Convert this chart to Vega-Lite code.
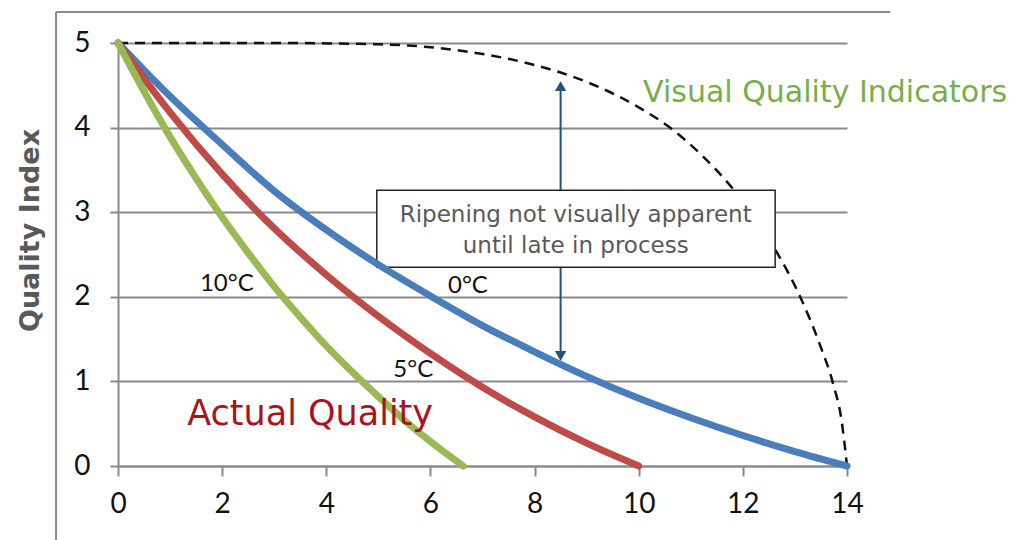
{
  "$schema": "https://vega.github.io/schema/vega-lite/v6.json",
  "width": 729,
  "height": 423,
  "autosize": {"type": "none"},
  "padding": {"left": 118, "top": 43, "right": 164, "bottom": 74},
  "background": "white",
  "config": {"view": {"stroke": null}},
  "datasets": {
    "curves": [
      {"x": 0, "y": 5, "s": "0C"}, {"x": 0.5, "y": 4.68, "s": "0C"}, {"x": 1, "y": 4.37, "s": "0C"}, {"x": 2, "y": 3.8, "s": "0C"},
      {"x": 3, "y": 3.25, "s": "0C"}, {"x": 4, "y": 2.79, "s": "0C"}, {"x": 5, "y": 2.38, "s": "0C"}, {"x": 6, "y": 2.01, "s": "0C"},
      {"x": 7, "y": 1.66, "s": "0C"}, {"x": 8, "y": 1.35, "s": "0C"}, {"x": 9, "y": 1.06, "s": "0C"}, {"x": 10, "y": 0.8, "s": "0C"},
      {"x": 11, "y": 0.57, "s": "0C"}, {"x": 12, "y": 0.36, "s": "0C"}, {"x": 13, "y": 0.17, "s": "0C"}, {"x": 14, "y": 0, "s": "0C"},
      {"x": 0, "y": 5, "s": "5C"}, {"x": 0.5, "y": 4.58, "s": "5C"}, {"x": 1, "y": 4.18, "s": "5C"}, {"x": 2, "y": 3.45, "s": "5C"},
      {"x": 3, "y": 2.81, "s": "5C"}, {"x": 4, "y": 2.26, "s": "5C"}, {"x": 5, "y": 1.77, "s": "5C"}, {"x": 6, "y": 1.33, "s": "5C"},
      {"x": 7, "y": 0.93, "s": "5C"}, {"x": 8, "y": 0.58, "s": "5C"}, {"x": 9, "y": 0.27, "s": "5C"}, {"x": 10, "y": 0, "s": "5C"},
      {"x": 0, "y": 5, "s": "10C"}, {"x": 0.5, "y": 4.43, "s": "10C"}, {"x": 1, "y": 3.89, "s": "10C"}, {"x": 1.5, "y": 3.4, "s": "10C"},
      {"x": 2, "y": 2.94, "s": "10C"}, {"x": 2.5, "y": 2.52, "s": "10C"}, {"x": 3, "y": 2.12, "s": "10C"}, {"x": 3.5, "y": 1.76, "s": "10C"},
      {"x": 4, "y": 1.42, "s": "10C"}, {"x": 4.5, "y": 1.11, "s": "10C"}, {"x": 5, "y": 0.82, "s": "10C"}, {"x": 5.5, "y": 0.54, "s": "10C"},
      {"x": 6, "y": 0.29, "s": "10C"}, {"x": 6.63, "y": 0, "s": "10C"}
    ],
    "visual": [
      {"x": 0, "y": 5}, {"x": 3, "y": 5}, {"x": 5, "y": 4.985}, {"x": 6, "y": 4.95}, {"x": 7, "y": 4.87},
      {"x": 8, "y": 4.74}, {"x": 9, "y": 4.54}, {"x": 10, "y": 4.24}, {"x": 10.6, "y": 4.0}, {"x": 11.2, "y": 3.68},
      {"x": 11.75, "y": 3.32}, {"x": 12.3, "y": 2.87}, {"x": 12.62, "y": 2.56}, {"x": 13.1, "y": 2.0}, {"x": 13.5, "y": 1.4},
      {"x": 13.73, "y": 0.98}, {"x": 13.9, "y": 0.52}, {"x": 14, "y": 0}
    ],
    "frame": [
      {"x": -1.19, "x2": 14.83, "y": 5.366, "y2": 5.366},
      {"x": -1.19, "x2": -1.19, "y": 5.366, "y2": -0.875}
    ],
    "arrow": [{"x": 8.5, "y": 4.47, "y2": 1.32}],
    "heads": [{"x": 8.5, "y": 4.49, "dir": "triangle-up"}, {"x": 8.5, "y": 1.3, "dir": "triangle-down"}],
    "box": [{"x": 4.97, "x2": 12.62, "y": 3.26, "y2": 2.35}],
    "boxtext": [
      {"x": 8.79, "y": 2.884, "t": "Ripening not visually apparent"},
      {"x": 8.79, "y": 2.518, "t": "until late in process"}
    ],
    "temps": [
      {"x": 2.09, "y": 2.15, "t": "10°C"},
      {"x": 6.72, "y": 2.13, "t": "0°C"},
      {"x": 5.67, "y": 1.13, "t": "5°C"}
    ],
    "actual": [{"x": 3.69, "y": 0.485, "t": "Actual Quality"}],
    "vqi": [{"x": 13.58, "y": 4.3, "t": "Visual Quality Indicators"}]
  },
  "encoding": {
    "x": {"field": "x", "type": "quantitative", "scale": {"domain": [0, 14], "nice": false}},
    "y": {"field": "y", "type": "quantitative", "scale": {"domain": [0, 5], "nice": false}}
  },
  "layer": [
    {
      "data": {"name": "frame"},
      "mark": {"type": "rule", "color": "#8a8a8a", "strokeWidth": 2, "clip": false},
      "encoding": {
        "x": {"field": "x", "type": "quantitative", "scale": {"domain": [0, 14], "nice": false},
          "axis": {"values": [0, 2, 4, 6, 8, 10, 12, 14], "format": "d", "title": null, "grid": false, "domainColor": "#8a8a8a", "domainWidth": 2,
            "tickColor": "#8a8a8a", "tickWidth": 2, "tickSize": 10, "labelFont": "Lato", "labelFontSize": 28, "labelColor": "#111111",
            "labelPadding": 14, "labelFlush": false}},
        "x2": {"field": "x2"},
        "y": {"field": "y", "type": "quantitative", "scale": {"domain": [0, 5], "nice": false},
          "axis": {"values": [0, 1, 2, 3, 4, 5], "format": "d", "title": "Quality Index", "grid": true, "gridColor": "#8a8a8a", "gridWidth": 2,
            "gridOpacity": 1, "domainColor": "#8a8a8a", "domainWidth": 2, "tickColor": "#8a8a8a", "tickWidth": 2, "tickSize": 8,
            "labelFont": "Lato", "labelFontSize": 28, "labelColor": "#111111", "labelPadding": 20,
            "titleFont": "DejaVu Sans", "titleFontSize": 27, "titleFontWeight": "bold", "titleColor": "#595959",
            "titleX": -88, "titleY": 187, "titleBaseline": "middle", "titleAngle": 270, "titleAlign": "center"}},
        "y2": {"field": "y2"}
      }
    },
    {
      "data": {"name": "visual"},
      "mark": {"type": "line", "color": "#111111", "strokeWidth": 2.5, "strokeDash": [10, 7], "interpolate": "monotone", "clip": false},
      "encoding": {}
    },
    {
      "data": {"name": "arrow"},
      "mark": {"type": "rule", "color": "#24527a", "strokeWidth": 2},
      "encoding": {"y2": {"field": "y2"}}
    },
    {
      "data": {"name": "heads"},
      "mark": {"type": "point", "filled": true, "color": "#24527a", "size": 130, "opacity": 1},
      "encoding": {"shape": {"field": "dir", "type": "nominal", "scale": null, "legend": null}}
    },
    {
      "data": {"name": "box"},
      "mark": {"type": "rect", "fill": "white", "stroke": "#222222", "strokeWidth": 1.5},
      "encoding": {"x2": {"field": "x2"}, "y2": {"field": "y2"}}
    },
    {
      "data": {"name": "boxtext"},
      "mark": {"type": "text", "font": "DejaVu Sans", "fontSize": 23, "color": "#595959", "align": "center", "baseline": "alphabetic"},
      "encoding": {"text": {"field": "t"}}
    },
    {
      "data": {"name": "curves"},
      "mark": {"type": "line", "strokeWidth": 7, "interpolate": "monotone", "strokeCap": "round"},
      "encoding": {
        "color": {"field": "s", "type": "nominal", "scale": {"domain": ["0C", "5C", "10C"], "range": ["#4a7ebb", "#be4b48", "#98b954"]}, "legend": null},
        "order": {"field": "x", "type": "quantitative"}
      }
    },
    {
      "data": {"name": "temps"},
      "mark": {"type": "text", "font": "Lato", "fontSize": 24, "color": "#111111", "align": "center", "baseline": "middle"},
      "encoding": {"text": {"field": "t"}}
    },
    {
      "data": {"name": "actual"},
      "mark": {"type": "text", "font": "DejaVu Sans", "fontSize": 35, "color": "#a8141e", "align": "center", "baseline": "alphabetic"},
      "encoding": {"text": {"field": "t"}}
    },
    {
      "data": {"name": "vqi"},
      "mark": {"type": "text", "font": "DejaVu Sans", "fontSize": 30, "color": "#77ae48", "align": "center", "baseline": "alphabetic"},
      "encoding": {"text": {"field": "t"}}
    }
  ]
}
